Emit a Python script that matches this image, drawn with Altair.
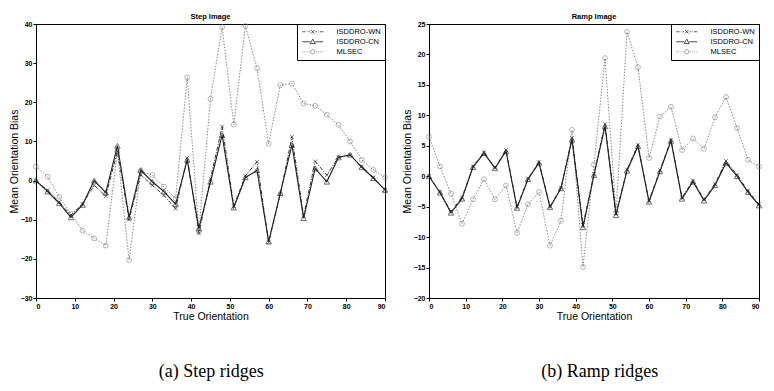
import altair as alt
import pandas as pd

# ---------------- data ----------------
orientation = [0, 3, 6, 9, 12, 15, 18, 21, 24, 27, 30, 33, 36, 39, 42, 45,
               48, 51, 54, 57, 60, 63, 66, 69, 72, 75, 78, 81, 84, 87, 90]
x_ticks = [0, 10, 20, 30, 40, 50, 60, 70, 80, 90]

series_names = ["ISDDRO-WN", "ISDDRO-CN", "MLSEC"]

# Step image
step_wn = [0, -2.5, -5.5, -8.8, -6.0, -1.2, -4.0, 7.5, -10.0, 1.5, -1.2, -3.8, -7.2, 5.8, -13.5,
           0.5, 13.8, -6.5, 1.2, 4.8, -15.8, -3.5, 11.2, -9.0, 4.9, 1.4, 6.0, 6.5, 3.6, 0.8, -2.4]
step_cn = [0, -2.8, -5.8, -9.4, -6.2, 0, -3.1, 8.9, -9.4, 2.7, -0.3, -2.8, -6.0, 5.3, -12.2,
           -0.3, 11.6, -6.9, 0.8, 2.6, -15.6, -3.2, 9.1, -9.6, 3.1, -0.3, 5.9, 6.6, 3.4, 0.6, -2.4]
step_ml = [3.6, 1.0, -4.2, -8.4, -12.8, -14.8, -16.6, 7.5, -20.3, 2.4, 1.4, -1.6, -4.6, 26.3, -13.0,
           20.9, 39.2, 14.3, 39.5, 28.7, 9.4, 24.4, 24.8, 19.7, 19.1, 16.8, 14.2, 10.0, 5.3, 2.7, 0.8]
step_y_ticks = [-30, -20, -10, 0, 10, 20, 30, 40]

# Ramp image
ramp_wn = [0, -2.6, -5.8, -3.5, 1.6, 3.9, 1.4, 4.3, -5.0, -0.4, 2.3, -5.0, -1.9, 6.3, -8.0,
           0.4, 8.6, -6.1, 1.1, 5.2, -4.0, 1.0, 6.0, -3.5, -0.7, -3.8, -1.3, 2.5, 0.2, -2.4, -4.6]
ramp_cn = [0, -2.7, -6.0, -3.7, 1.5, 3.8, 1.3, 4.1, -5.2, -0.5, 2.2, -5.1, -2.0, 6.0, -8.4,
           0.2, 8.2, -6.4, 0.9, 4.9, -4.2, 0.8, 5.8, -3.7, -0.9, -4.0, -1.5, 2.2, 0.0, -2.6, -4.8]
ramp_ml = [6.5, 1.6, -2.9, -7.8, -3.8, -0.5, -3.8, -1.5, -9.3, -4.6, -2.6, -11.4, -7.3, 7.6, -14.9,
           1.9, 19.4, -6.0, 23.7, 17.9, 3.0, 9.8, 11.4, 4.3, 6.2, 4.5, 9.7, 13.0, 7.9, 2.7, 1.6]
ramp_y_ticks = [-20, -15, -10, -5, 0, 5, 10, 15, 20, 25]

# ---------------- styles ----------------
WN_C, CN_C, ML_C = "#333333", "#1e1e1e", "#7d7d7d"
X_PATH = "M-1,-1L1,1M1,-1L-1,1"
LEG_WN = ("M-3.5,0H-2.4M-2.0,0H-1.8M-1.4,0H-0.9M0.9,0H1.4M1.8,0H2.0M2.4,0H3.5"
          "M-0.6,-0.6L0.6,0.6M0.6,-0.6L-0.6,0.6")
LEG_CN = "M-3.5,0H-0.85M0.85,0H3.5M0,-0.85L0.85,0.6L-0.85,0.6Z"
LEG_ML = ("M-3.5,0H-3.2M-2.8,0H-2.5M-2.1,0H-1.8M-1.4,0H-1.1"
          "M1.1,0H1.4M1.8,0H2.1M2.5,0H2.8M3.2,0H3.5"
          "M0.7,0A0.7,0.7 0 1,1 -0.7,0A0.7,0.7 0 1,1 0.7,0")


def long_df(wn, cn, ml):
    rows = []
    for name, vals in zip(series_names, [wn, cn, ml]):
        for x, v in zip(orientation, vals):
            rows.append({"x": x, "v": v, "s": name})
    return pd.DataFrame(rows)


def legend():
    return alt.Legend(title=None, orient="top-right", offset=0, padding=4,
                      strokeColor="black", fillColor="white",
                      labelFont="Liberation Sans", labelFontSize=7.5, labelColor="black",
                      symbolSize=36, symbolOffset=8, labelOffset=20, rowPadding=1,
                      symbolStrokeWidth=0.8)


def panel(df, ydom, yticks, title, caption, width, cap_dx):
    base = alt.Chart(df)
    X = alt.X("x:Q", scale=alt.Scale(domain=[0, 90], nice=False, zero=False),
              axis=alt.Axis(values=x_ticks, title="True Orientation"))
    Y = alt.Y("v:Q", scale=alt.Scale(domain=ydom, nice=False, zero=False),
              axis=alt.Axis(values=yticks, title="Mean Orientation Bias"))

    def sub(name):
        return base.transform_filter(alt.datum.s == name)

    layers = [
        sub("MLSEC").mark_line(color=ML_C, strokeDash=[1.5, 1.5], strokeWidth=0.9).encode(X, Y),
        sub("MLSEC").mark_point(shape="circle", size=24, color=ML_C, filled=False,
                                strokeWidth=0.8).encode(X, Y),
        sub("ISDDRO-WN").mark_line(color=WN_C, strokeDash=[4, 1.5, 1, 1.5],
                                   strokeWidth=1).encode(X, Y),
        sub("ISDDRO-WN").mark_point(shape=X_PATH, size=14, color=WN_C, filled=False,
                                    strokeWidth=0.9).encode(X, Y),
        sub("ISDDRO-CN").mark_line(color=CN_C, strokeWidth=1.1).encode(X, Y),
        sub("ISDDRO-CN").mark_point(shape="triangle-up", size=30, color=CN_C, filled=False,
                                    strokeWidth=0.9).encode(X, Y),
        base.transform_filter("false").mark_point(filled=False, strokeWidth=0.8, opacity=1).encode(
            X, Y,
            shape=alt.Shape("s:N", scale=alt.Scale(domain=series_names,
                                                   range=[LEG_WN, LEG_CN, LEG_ML]),
                            legend=legend()),
            color=alt.Color("s:N", scale=alt.Scale(domain=series_names,
                                                   range=[WN_C, CN_C, ML_C]),
                            legend=legend()),
        ),
    ]
    lay = alt.layer(*layers).properties(
        width=width, height=274,
        title=alt.TitleParams(title, anchor="middle", offset=0, font="Liberation Sans",
                              fontSize=7.5, fontWeight="bold", color="black"))
    return alt.vconcat(lay).resolve_scale(
        color="independent", shape="independent").resolve_legend(
        color="independent", shape="independent").properties(
        title=alt.TitleParams(caption, orient="bottom", anchor="middle", offset=41,
                              dx=cap_dx, font="Liberation Serif", fontSize=18,
                              fontWeight="normal", color="black"))


left = panel(long_df(step_wn, step_cn, step_ml), [-30, 40], step_y_ticks,
             "Step Image", "(a) Step ridges", 349, 12)
right = panel(long_df(ramp_wn, ramp_cn, ramp_ml), [-20, 25], ramp_y_ticks,
              "Ramp Image", "(b) Ramp ridges", 330, 17)

chart = alt.hconcat(left, right, spacing=10).resolve_scale(
    color="independent", shape="independent").resolve_legend(
    color="independent", shape="independent").properties(
    padding={"left": 0, "top": 4, "right": 0, "bottom": 0},
    background="white",
).configure_view(stroke="black", strokeWidth=1).configure_axis(
    domainColor="black", tickColor="black", labelColor="black", titleColor="black",
    grid=False, labelFont="Liberation Sans", labelFontSize=7, labelFontWeight="bold",
    titleFont="Liberation Sans", titleFontSize=10.5, titleFontWeight="normal",
    tickSize=3, labelPadding=1, domainWidth=1,
).configure_axisX(titlePadding=2).configure_axisY(titlePadding=1)

chart.save("out.html", embed_options={"renderer": "svg", "actions": False})
